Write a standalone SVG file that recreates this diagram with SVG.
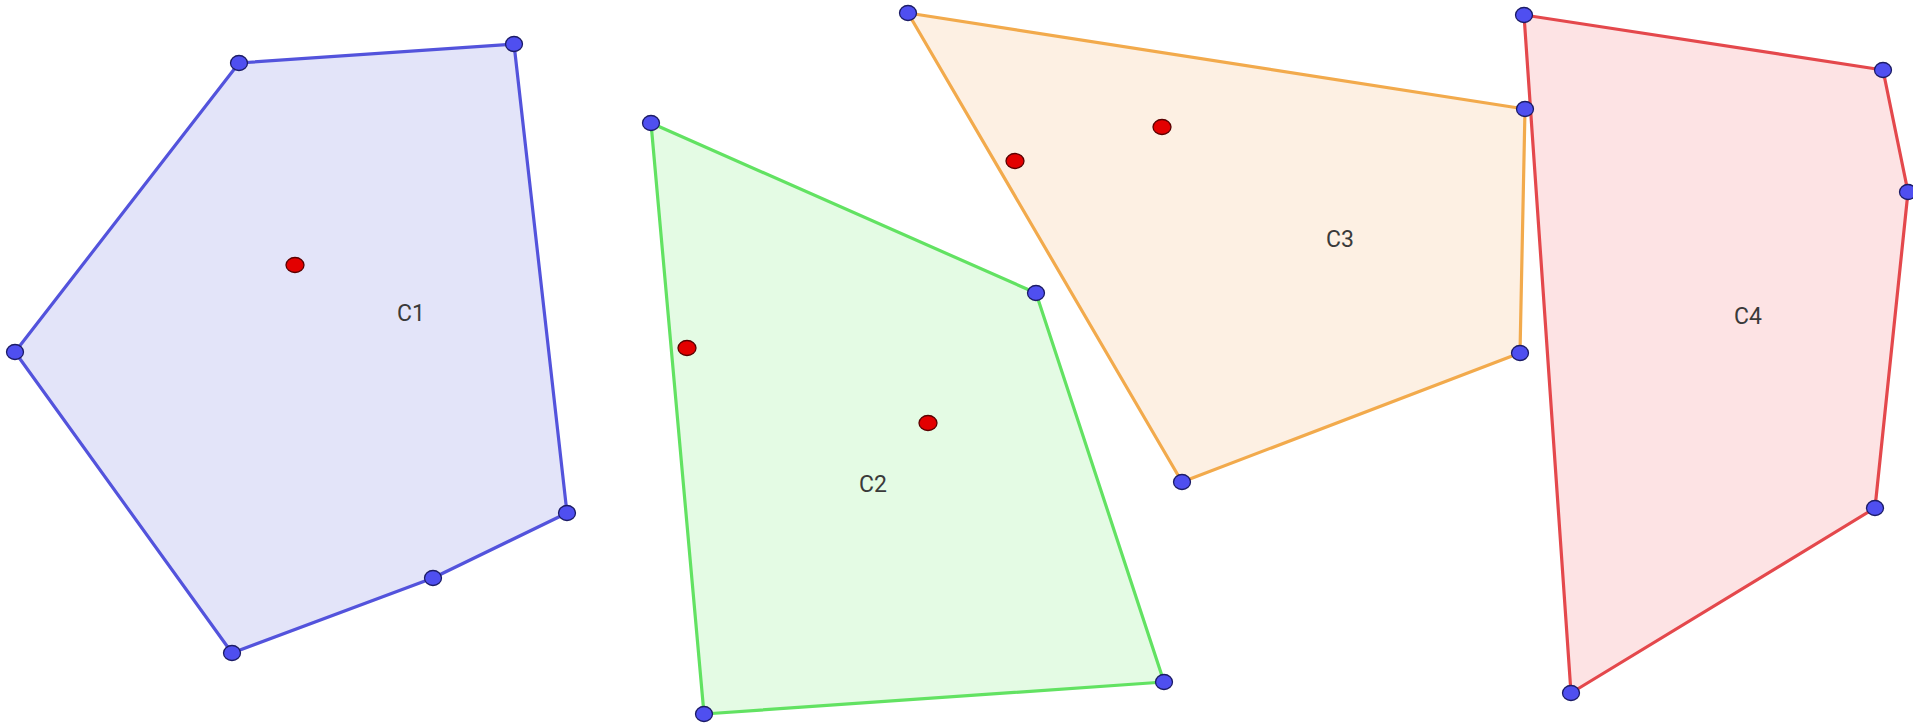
<svg xmlns="http://www.w3.org/2000/svg" width="1913" height="725" viewBox="0 0 1913 725">
<style>
.poly{stroke-width:3.2;stroke-linejoin:round}
.c1{fill:#e3e4f9;stroke:#5353dc}
.c2{fill:#e4fbe4;stroke:#62e262}
.c3{fill:#fdf0e3;stroke:#f2aa4c}
.c4{fill:#fde3e4;stroke:#e4484c}
.v{fill:#4f4ff0;stroke:#1c1c66;stroke-width:1.3}
.r{fill:#e30000;stroke:#5a0000;stroke-width:1.3}
.lbl{font-family:Roboto,"Liberation Sans",sans-serif;font-size:23px;fill:#3a3a3a;text-anchor:middle;dominant-baseline:central}
</style>
<rect width="1913" height="725" fill="#ffffff"/>
<g id="C1">
<polygon class="poly c1" points="239,63 514,44 567,513 433,578 232,653 15,352"/>
<ellipse class="r" cx="295" cy="265" rx="9" ry="7.5"/>
<ellipse class="v" cx="239" cy="63" rx="8.5" ry="7.5"/>
<ellipse class="v" cx="514" cy="44" rx="8.5" ry="7.5"/>
<ellipse class="v" cx="567" cy="513" rx="8.5" ry="7.5"/>
<ellipse class="v" cx="433" cy="578" rx="8.5" ry="7.5"/>
<ellipse class="v" cx="232" cy="653" rx="8.5" ry="7.5"/>
<ellipse class="v" cx="15" cy="352" rx="8.5" ry="7.5"/>
<text class="lbl" x="411" y="313">C1</text>
</g>
<g id="C2">
<polygon class="poly c2" points="651,123 1036,293 1164,682 704,714"/>
<ellipse class="r" cx="687" cy="348" rx="9" ry="7.5"/>
<ellipse class="r" cx="928" cy="423" rx="9" ry="7.5"/>
<ellipse class="v" cx="651" cy="123" rx="8.5" ry="7.5"/>
<ellipse class="v" cx="1036" cy="293" rx="8.5" ry="7.5"/>
<ellipse class="v" cx="1164" cy="682" rx="8.5" ry="7.5"/>
<ellipse class="v" cx="704" cy="714" rx="8.5" ry="7.5"/>
<text class="lbl" x="873" y="484">C2</text>
</g>
<g id="C3">
<polygon class="poly c3" points="908,13 1525,109 1520,353 1182,482"/>
<ellipse class="r" cx="1015" cy="161" rx="9" ry="7.5"/>
<ellipse class="r" cx="1162" cy="127" rx="9" ry="7.5"/>
<ellipse class="v" cx="908" cy="13" rx="8.5" ry="7.5"/>
<ellipse class="v" cx="1520" cy="353" rx="8.5" ry="7.5"/>
<ellipse class="v" cx="1182" cy="482" rx="8.5" ry="7.5"/>
<text class="lbl" x="1340" y="239">C3</text>
</g>
<g id="C4">
<polygon class="poly c4" points="1524,15 1883,70 1908,192 1875,508 1571,693"/>
<ellipse class="v" cx="1524" cy="15" rx="8.5" ry="7.5"/>
<ellipse class="v" cx="1883" cy="70" rx="8.5" ry="7.5"/>
<ellipse class="v" cx="1908" cy="192" rx="8.5" ry="7.5"/>
<ellipse class="v" cx="1875" cy="508" rx="8.5" ry="7.5"/>
<ellipse class="v" cx="1571" cy="693" rx="8.5" ry="7.5"/>
<text class="lbl" x="1748" y="316">C4</text>
</g>
<g id="C3-shared">
<ellipse class="v" cx="1525" cy="109" rx="8.5" ry="7.5"/>
</g>
<g id="connectors"></g>
</svg>
